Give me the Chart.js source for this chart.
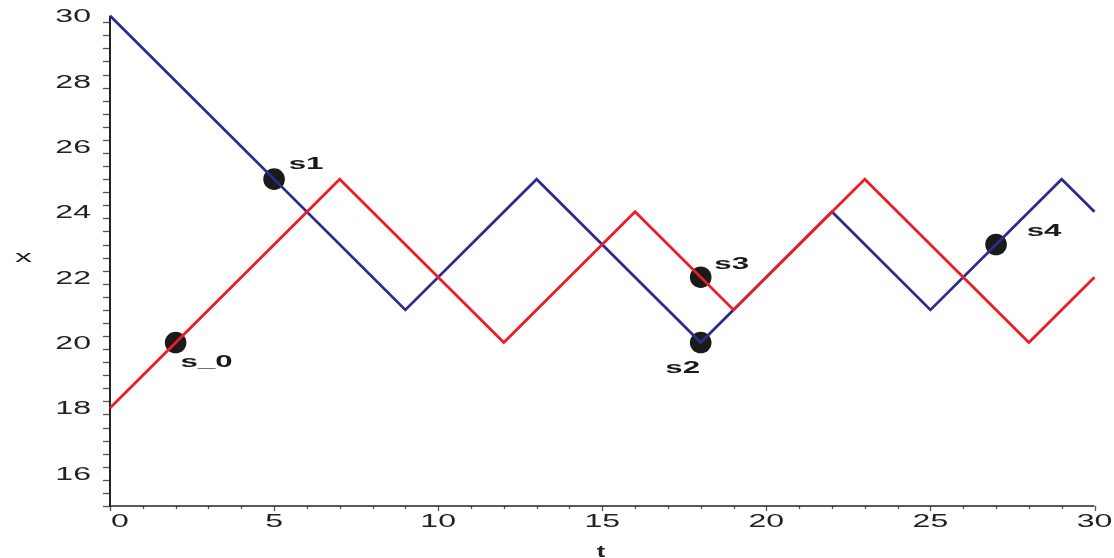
<!DOCTYPE html>
<html>
<head>
<meta charset="utf-8">
<script src="https://cdn.jsdelivr.net/npm/chart.js@4/dist/chart.umd.min.js"></script>
<style>
  html, body { margin: 0; padding: 0; background: #ffffff; }
  #wrap { width: 1114px; height: 558px; }
</style>
</head>
<body>
<div id="wrap"><canvas id="c" width="1114" height="558"></canvas></div>
<script>
// ---- data ----
const tBlue = [0, 9, 13, 18, 22, 25, 29, 30];
const xBlue = [30, 21, 25, 20, 24, 21, 25, 24];
const tRed  = [0, 7, 12, 16, 19, 23, 28, 30];
const xRed  = [18, 25, 20, 24, 21, 25, 20, 22];
const pointT = [2, 5, 18, 18, 27];
const pointX = [20, 25, 20, 22, 23];
const pointLabels = ['s_0', 's1', 's2', 's3', 's4'];
const xTickValues = [0, 5, 10, 15, 20, 25, 30];
const yTickValues = [16, 18, 20, 22, 24, 26, 28, 30];
const xAxisTitle = 't';
const yAxisTitle = 'x';

// label placement (pixel offsets from each point: dx to text centre, dy to baseline)
const labelPlacement = [[31, 24], [32, -10], [-18, 30], [31, -8], [48, -9]];

function toXY(xs, ys) { return xs.map((v, i) => ({ x: v, y: ys[i] })); }

function stretchText(ctx, text, x, y, sx, align) {
  ctx.save();
  ctx.translate(x, y);
  ctx.scale(sx, 1);
  ctx.textAlign = align;
  ctx.textBaseline = 'alphabetic';
  ctx.fillText(text, 0, 0);
  ctx.restore();
}

const axesPlugin = {
  id: 'maple-axes',
  beforeDatasetsDraw(chart) {
    const ctx = chart.ctx, xs = chart.scales.x, ys = chart.scales.y;
    const left = xs.getPixelForValue(0), bottom = ys.getPixelForValue(15);
    const top = ys.getPixelForValue(30), right = xs.getPixelForValue(30);
    ctx.save();
    ctx.strokeStyle = '#555';
    ctx.lineWidth = 1.3;
    for (let k = 0; k <= 37; k++) {
      const v = 15 + k * 0.4;
      if (v > 30.01) break;
      const major = yTickValues.some(t => Math.abs(t - v) < 1e-6);
      const py = Math.round(ys.getPixelForValue(v)) + 0.5;
      ctx.beginPath();
      ctx.moveTo(left - (major ? 12 : 7), py);
      ctx.lineTo(left, py);
      ctx.stroke();
    }
    for (let v = 0; v <= 30; v++) {
      const major = xTickValues.includes(v);
      const px = Math.round(xs.getPixelForValue(v)) + 0.5;
      ctx.beginPath();
      ctx.moveTo(px, bottom);
      ctx.lineTo(px, bottom + (major ? 5 : 3));
      ctx.stroke();
    }
    ctx.strokeStyle = '#222';
    ctx.lineWidth = 2;
    ctx.beginPath();
    ctx.moveTo(left, top);
    ctx.lineTo(left, bottom);
    ctx.stroke();
    ctx.lineWidth = 1.6;
    ctx.beginPath();
    ctx.moveTo(left - 1, bottom);
    ctx.lineTo(right, bottom);
    ctx.stroke();
    ctx.restore();
  },
  afterDraw(chart) {
    const ctx = chart.ctx, xs = chart.scales.x, ys = chart.scales.y;
    const left = xs.getPixelForValue(0), bottom = ys.getPixelForValue(15);
    ctx.save();
    ctx.fillStyle = '#222';
    ctx.font = '18px "Liberation Sans", Arial, sans-serif';
    yTickValues.forEach(v => {
      stretchText(ctx, String(v), left - 19, ys.getPixelForValue(v) + 6.5, 1.78, 'right');
    });
    xTickValues.forEach(v => {
      const px = xs.getPixelForValue(v);
      if (v === 0) stretchText(ctx, String(v), px + 1, bottom + 21, 1.78, 'left');
      else stretchText(ctx, String(v), px, bottom + 21, 1.78, 'center');
    });
    ctx.font = '17px "Liberation Sans", Arial, sans-serif';
    stretchText(ctx, yAxisTitle, 23.5, 262, 2.0, 'center');
    ctx.font = 'bold 16px "Liberation Sans", Arial, sans-serif';
    stretchText(ctx, xAxisTitle, 601, 557, 1.6, 'center');
    ctx.font = 'bold 16px "Liberation Sans", Arial, sans-serif';
    ctx.fillStyle = '#1a1a1a';
    pointLabels.forEach((lab, i) => {
      const px = xs.getPixelForValue(pointT[i]);
      const py = ys.getPixelForValue(pointX[i]);
      const off = labelPlacement[i];
      stretchText(ctx, lab, px + off[0], py + off[1], 1.95, 'center');
    });
    ctx.restore();
  }
};

new Chart(document.getElementById('c'), {
  type: 'line',
  data: {
    datasets: [
      {
        label: 'red',
        data: toXY(tRed, xRed),
        borderColor: '#ee1c25',
        borderWidth: 2.8,
        pointRadius: 0,
        tension: 0,
        fill: false,
        clip: false
      },
      {
        label: 'blue',
        data: toXY(tBlue, xBlue),
        borderColor: '#2b2d8e',
        borderWidth: 2.8,
        pointRadius: 0,
        tension: 0,
        fill: false,
        clip: false
      },
      {
        label: 'points',
        data: toXY(pointT, pointX),
        showLine: false,
        pointRadius: 10.8,
        pointBackgroundColor: '#1a1a1a',
        pointBorderWidth: 0,
        borderWidth: 0,
        clip: false
      }
    ]
  },
  options: {
    responsive: false,
    animation: false,
    devicePixelRatio: 1,
    layout: { padding: { left: 110, right: 19.5, top: 15.7, bottom: 52 } },
    scales: {
      x: { type: 'linear', min: 0, max: 30, display: false },
      y: { type: 'linear', min: 15, max: 30, display: false }
    },
    plugins: {
      legend: { display: false },
      tooltip: { enabled: false }
    }
  },
  plugins: [axesPlugin]
});
</script>
</body>
</html>
